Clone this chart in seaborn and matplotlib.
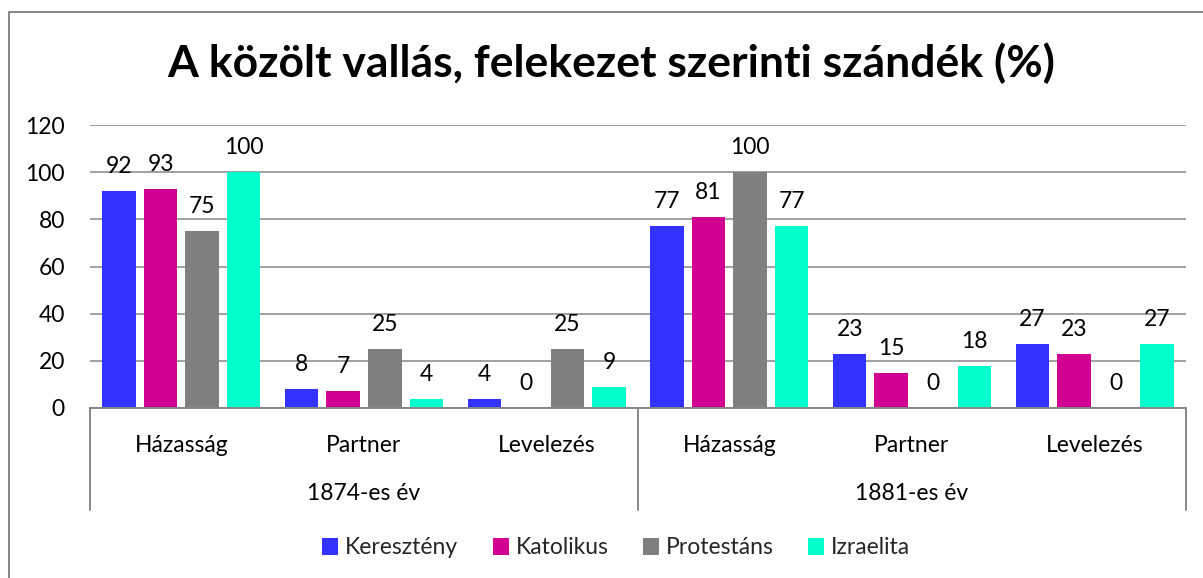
import matplotlib
matplotlib.use("Agg")
import matplotlib.pyplot as plt
import matplotlib.transforms as mtransforms
import seaborn as sns
import pandas as pd
from matplotlib.patches import Patch
from matplotlib.lines import Line2D

# ---- data ----
title = "A közölt vallás, felekezet szerinti szándék (%)"
years = ["1874-es év", "1881-es év"]
categories = ["Házasság", "Partner", "Levelezés"]
series = ["Keresztény", "Katolikus", "Protestáns", "Izraelita"]
kereszteny = [92, 8, 4, 77, 23, 27]
katolikus = [93, 7, 0, 81, 15, 23]
protestans = [75, 25, 25, 100, 0, 0]
izraelita = [100, 4, 9, 77, 18, 27]
colors = ["#3333FF", "#D10093", "#7F7F7F", "#00FFCC"]
yticks = [0, 20, 40, 60, 80, 100, 120]

keys = [f"{y}|{c}" for y in years for c in categories]
values = {"Keresztény": kereszteny, "Katolikus": katolikus,
          "Protestáns": protestans, "Izraelita": izraelita}
rows = []
for s in series:
    for k, v in zip(keys, values[s]):
        rows.append({"group": k, "series": s, "value": v})
df = pd.DataFrame(rows)

sns.set_theme(style="white")
plt.rcParams["font.family"] = ["Lato", "DejaVu Sans"]

FS = 16.5
W, H = 1203, 578
fig = plt.figure(figsize=(W / 100, H / 100), dpi=100)
fig.patch.set_facecolor("white")
L, R, T, B = 90, 1186, 125, 408
ax = fig.add_axes([L / W, 1 - B / H, (R - L) / W, (B - T) / H])

sns.barplot(data=df, x="group", y="value", hue="series", order=keys,
            hue_order=series, palette=colors, width=0.91, gap=0.19,
            saturation=1, legend=False, linewidth=0, ax=ax, errorbar=None)

grid_c = "#868686"
ax.set_ylim(0, 120)
ax.set_xlim(-0.5, len(keys) - 0.5)
ax.set_yticks(yticks)
ax.set_yticklabels([str(t) for t in yticks], fontsize=FS, color="black")
ax.yaxis.grid(True, color=grid_c, linewidth=1.1)
ax.set_axisbelow(True)
ax.tick_params(axis="y", length=0, pad=18)
ax.set_xticks([])
ax.set_xlabel("")
ax.set_ylabel("")
for sp in ["left", "top", "right"]:
    ax.spines[sp].set_visible(False)
ax.spines["bottom"].set_color(grid_c)
ax.spines["bottom"].set_linewidth(1.4)

# data labels
for cont in ax.containers:
    for bar, v in zip(cont, cont.datavalues):
        ax.annotate(f"{v:g}", (bar.get_x() + bar.get_width() / 2, bar.get_height()),
                    xytext=(0, 18), textcoords="offset pixels",
                    ha="center", va="baseline", fontsize=FS, color="black")

# multi-level category axis
tr = mtransforms.blended_transform_factory(ax.transData, fig.transFigure)
for i, k in enumerate(keys):
    cat = k.split("|")[1]
    ax.text(i, 1 - 452 / H, cat, transform=tr,
            ha="center", va="baseline", fontsize=FS, color="black")
for j, y in enumerate(years):
    ax.text(j * 3 + 1, 1 - 500 / H, y, transform=tr,
            ha="center", va="baseline", fontsize=FS, color="black")
for xs in [-0.5, 2.5, 5.5]:
    ax.add_line(Line2D([xs, xs], [1 - B / H, 1 - 510 / H], transform=tr,
                       color=grid_c, linewidth=1.4, clip_on=False))

# title
fig.text(611 / W, 1 - 77 / H, title, ha="center", va="baseline",
         fontsize=32, fontweight="bold", color="black")

# legend
handles = [Patch(facecolor=c, edgecolor="none", label=s) for s, c in zip(series, colors)]
fig.legend(handles=handles, loc="center", bbox_to_anchor=(616 / W, 1 - 548 / H),
           ncol=4, frameon=False, fontsize=FS, handlelength=0.7, handleheight=0.7,
           handletextpad=0.3, columnspacing=1.5)

# outer chart border
fig.add_artist(Line2D([8.5 / W, 8.5 / W], [1 - 12 / H, 0], transform=fig.transFigure,
                      color=grid_c, linewidth=1.4))
fig.add_artist(Line2D([8.5 / W, 1], [1 - 12 / H, 1 - 12 / H], transform=fig.transFigure,
                      color=grid_c, linewidth=1.4))

fig.savefig("out.png", dpi=100, facecolor="white")
